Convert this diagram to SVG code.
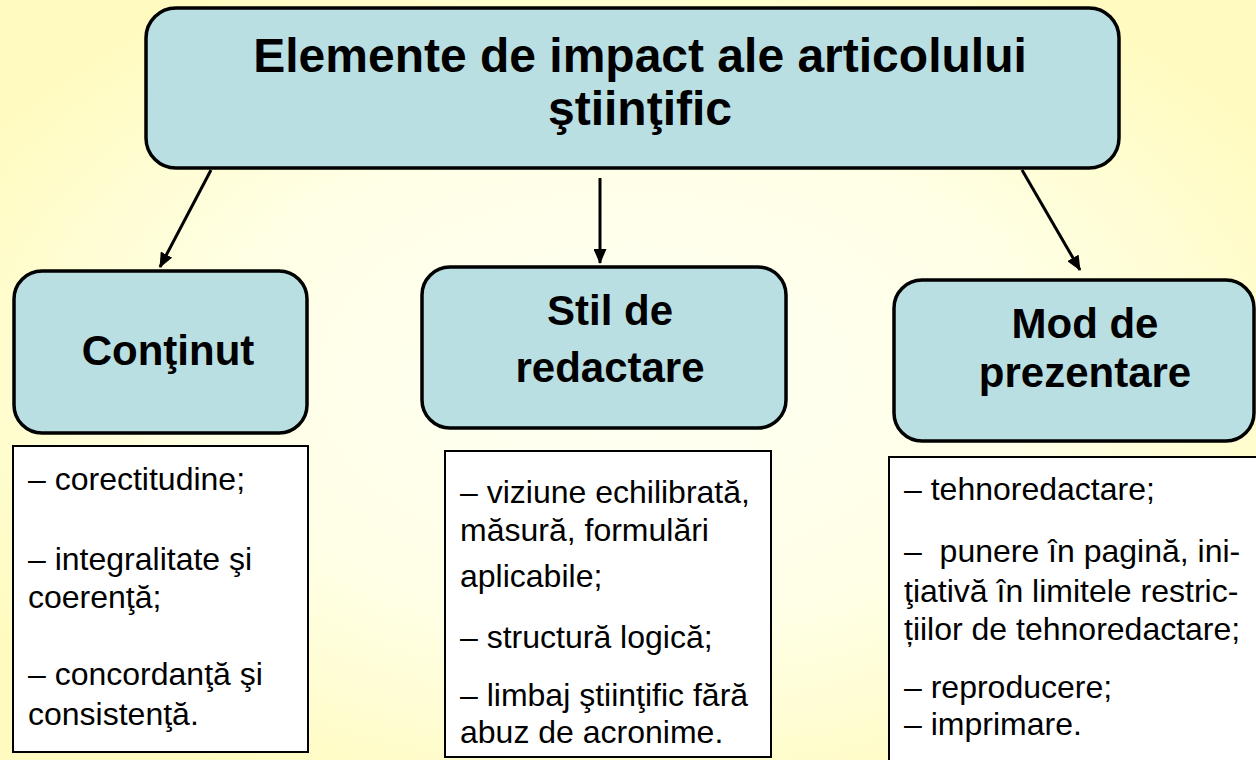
<svg xmlns="http://www.w3.org/2000/svg" width="1256" height="760" viewBox="0 0 1256 760">
<defs>
<radialGradient id="bg" cx="0.5" cy="0.5" r="0.6">
<stop offset="0" stop-color="#FFFFF4"/>
<stop offset="0.55" stop-color="#FFFFE6"/>
<stop offset="1" stop-color="#FFFBC0"/>
</radialGradient>
<marker id="ah" markerWidth="15" markerHeight="13" refX="14" refY="6.5" orient="auto" markerUnits="userSpaceOnUse">
<path d="M0,0 L15,6.5 L0,13 Z" fill="#000"/>
</marker>
<style>
.hb{fill:#B9DFE3;stroke:#000;stroke-width:3.5}
.tb{fill:#FFFFFF;stroke:#000;stroke-width:2}
.ht{font-family:"Liberation Sans",Arial,sans-serif;font-weight:bold;fill:#000;text-anchor:middle}
.bt{font-family:"Liberation Sans",Arial,sans-serif;font-size:32px;fill:#000}
.cn{stroke:#000;stroke-width:3;fill:none;marker-end:url(#ah)}
</style>
</defs>
<rect x="0" y="0" width="1256" height="760" fill="url(#bg)"/>
<g id="connectors">
<line class="cn" x1="211" y1="170" x2="160" y2="267"/>
<line class="cn" x1="600" y1="178" x2="600" y2="263"/>
<line class="cn" x1="1022" y1="170" x2="1080" y2="270"/>
</g>
<g id="title">
<rect class="hb" x="146" y="8" width="973" height="160" rx="30"/>
<text class="ht" x="640" y="72" font-size="48">Elemente de impact ale articolului</text>
<text class="ht" x="640" y="125" font-size="48">ştiinţific</text>
</g>
<g id="continut">
<rect class="hb" x="14" y="271" width="293" height="162" rx="28"/>
<text class="ht" x="168" y="365" font-size="42">Conţinut</text>
</g>
<g id="stil">
<rect class="hb" x="422" y="267" width="364" height="161" rx="28"/>
<text class="ht" x="610" y="325" font-size="42">Stil de</text>
<text class="ht" x="610" y="382" font-size="42">redactare</text>
</g>
<g id="mod">
<rect class="hb" x="894" y="280" width="360" height="161" rx="28"/>
<text class="ht" x="1085" y="338" font-size="42">Mod de</text>
<text class="ht" x="1085" y="387" font-size="42">prezentare</text>
</g>
<g id="continut-list">
<rect class="tb" x="13" y="446" width="295" height="306"/>
<text class="bt" x="28" y="490">– corectitudine;</text>
<text class="bt" x="28" y="570">– integralitate şi</text>
<text class="bt" x="28" y="608">coerenţă;</text>
<text class="bt" x="28" y="685">– concordanţă şi</text>
<text class="bt" x="28" y="725">consistenţă.</text>
</g>
<g id="stil-list">
<rect class="tb" x="445" y="451" width="326" height="306"/>
<text class="bt" x="460" y="503">– viziune echilibrată,</text>
<text class="bt" x="460" y="541">măsură, formulări</text>
<text class="bt" x="460" y="587">aplicabile;</text>
<text class="bt" x="460" y="648">– structură logică;</text>
<text class="bt" x="460" y="706">– limbaj ştiinţific fără</text>
<text class="bt" x="460" y="743">abuz de acronime.</text>
</g>
<g id="mod-list">
<rect class="tb" x="889" y="457" width="380" height="320"/>
<text class="bt" x="904" y="500">– tehnoredactare;</text>
<text class="bt" x="904" y="562" xml:space="preserve">–  punere în pagină, ini-</text>
<text class="bt" x="904" y="602">ţiativă în limitele restric-</text>
<text class="bt" x="904" y="640">țiilor de tehnoredactare;</text>
<text class="bt" x="904" y="698">– reproducere;</text>
<text class="bt" x="904" y="735">– imprimare.</text>
</g>
</svg>
